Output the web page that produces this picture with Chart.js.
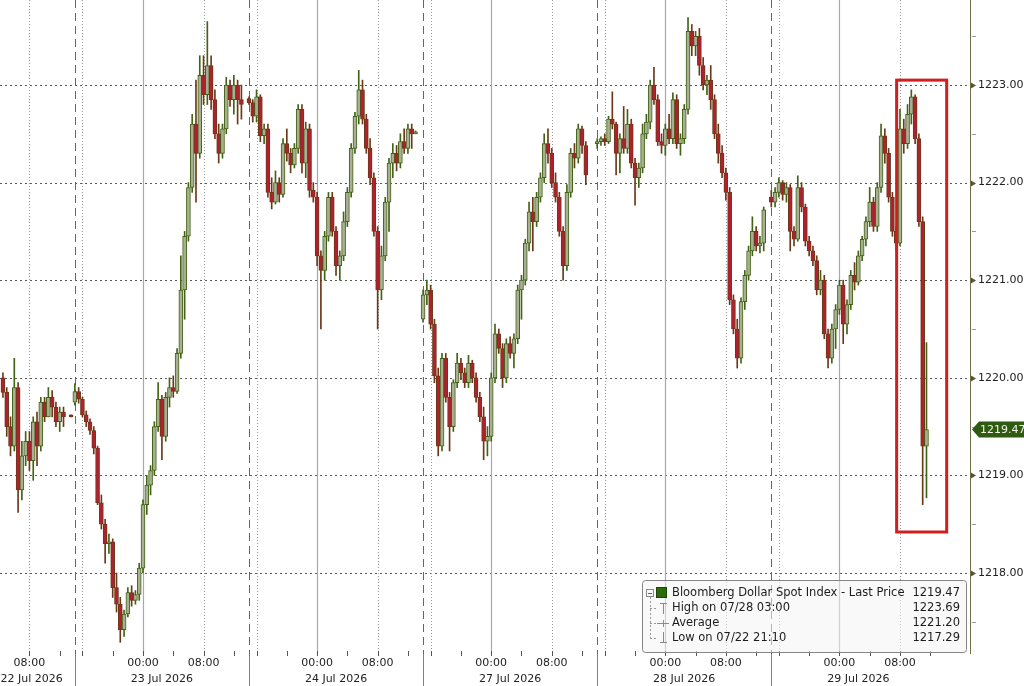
<!DOCTYPE html>
<html><head><meta charset="utf-8">
<script src="https://cdn.jsdelivr.net/npm/chart.js@4.4.1/dist/chart.umd.min.js"></script>
<style>html,body{margin:0;padding:0;background:#fff;}#wrap{width:1024px;height:686px;}</style>
</head><body><div id="wrap"><canvas id="c" width="1024" height="686"></canvas></div>
<script>
// ---- Data: 30-minute candles [open, high, low, close], one array per trading session ----
const jul22 = [
[1220.00,1220.05,1219.80,1219.85],[1219.85,1219.90,1219.40,1219.50],[1219.50,1219.60,1219.20,1219.30],
[1219.30,1220.20,1219.25,1219.90],[1219.90,1219.95,1218.62,1218.85],[1218.85,1219.35,1218.75,1219.20],
[1219.20,1219.45,1219.10,1219.35],[1219.35,1219.45,1219.05,1219.15],[1219.15,1219.60,1218.95,1219.55],
[1219.55,1219.65,1219.10,1219.30],[1219.30,1219.80,1219.25,1219.75],[1219.75,1219.80,1219.55,1219.60],
[1219.60,1219.90,1219.60,1219.80],[1219.80,1219.87,1219.60,1219.70],[1219.70,1219.75,1219.50,1219.55],
[1219.55,1219.70,1219.45,1219.65],[1219.65,1219.70,1219.50,1219.60],null,[1219.62,1219.62,1219.60,1219.60]
];
const jul23 = [
[1219.75,1219.94,1219.72,1219.86],[1219.86,1219.90,1219.74,1219.78],[1219.78,1219.80,1219.60,1219.62],
[1219.62,1219.66,1219.50,1219.55],[1219.55,1219.58,1219.42,1219.46],[1219.46,1219.50,1219.22,1219.28],
[1219.28,1219.30,1218.70,1218.72],[1218.72,1218.80,1218.45,1218.50],[1218.50,1218.55,1218.10,1218.30],
[1218.30,1218.40,1218.20,1218.32],[1218.32,1218.35,1217.75,1217.85],[1217.85,1218.00,1217.60,1217.68],
[1217.68,1217.75,1217.29,1217.42],[1217.42,1217.62,1217.35,1217.58],[1217.58,1217.85,1217.55,1217.80],
[1217.80,1217.87,1217.66,1217.72],[1217.72,1217.82,1217.68,1217.78],[1217.78,1218.10,1217.72,1218.05],
[1218.05,1218.75,1218.00,1218.70],[1218.70,1219.00,1218.60,1218.90],[1218.90,1219.10,1218.80,1219.05],
[1219.05,1219.55,1219.00,1219.50],[1219.50,1219.95,1219.45,1219.78],[1219.78,1219.82,1219.16,1219.40],
[1219.40,1219.85,1219.35,1219.80],[1219.80,1220.00,1219.70,1219.90],[1219.90,1220.02,1219.80,1219.86],
[1219.86,1220.30,1219.84,1220.25],[1220.25,1221.25,1220.20,1220.90],[1220.90,1221.50,1220.60,1221.45],
[1221.45,1222.00,1221.40,1221.95],[1221.95,1222.70,1221.90,1222.60],[1222.60,1223.05,1221.80,1222.30],
[1222.30,1223.30,1222.25,1223.10],[1223.10,1223.30,1222.80,1222.90],[1222.90,1223.65,1222.80,1223.20],
[1223.20,1223.30,1222.75,1222.85],[1222.85,1222.95,1222.45,1222.50],[1222.50,1222.60,1222.20,1222.30],
[1222.30,1222.60,1222.25,1222.55],[1222.55,1223.08,1222.50,1223.00],[1223.00,1223.05,1222.78,1222.85],
[1222.85,1223.10,1222.70,1223.00],[1223.00,1223.05,1222.60,1222.85],[1222.85,1223.00,1222.65,1222.80]
];
const jul24 = [
[1222.86,1222.88,1222.80,1222.82],[1222.82,1222.85,1222.62,1222.68],[1222.68,1222.95,1222.62,1222.88],
[1222.88,1222.90,1222.42,1222.48],[1222.48,1222.60,1222.40,1222.55],[1222.55,1222.60,1221.85,1221.90],
[1221.90,1222.05,1221.73,1221.80],[1221.80,1222.12,1221.78,1222.00],[1222.00,1222.05,1221.80,1221.88],
[1221.88,1222.45,1221.85,1222.40],[1222.40,1222.55,1222.22,1222.30],[1222.30,1222.35,1222.10,1222.18],
[1222.18,1222.40,1222.15,1222.35],[1222.35,1222.80,1222.30,1222.75],[1222.75,1222.80,1222.10,1222.20],
[1222.20,1222.62,1222.05,1222.55],[1222.55,1222.60,1221.85,1221.92],[1221.92,1222.00,1221.80,1221.85],
[1221.85,1221.90,1221.15,1221.25],[1221.25,1221.30,1220.50,1221.10],[1221.10,1221.50,1221.00,1221.45],
[1221.45,1221.90,1221.40,1221.85],[1221.85,1221.90,1221.45,1221.50],[1221.50,1221.55,1221.05,1221.15],
[1221.15,1221.30,1221.00,1221.25],[1221.25,1221.70,1221.20,1221.60],[1221.60,1221.95,1221.55,1221.90],
[1221.90,1222.40,1221.85,1222.35],[1222.35,1222.72,1222.30,1222.68],[1222.68,1223.15,1222.60,1222.95],
[1222.95,1223.05,1222.60,1222.65],[1222.65,1222.70,1222.30,1222.35],[1222.35,1222.45,1221.98,1222.05],
[1222.05,1222.10,1221.45,1221.50],[1221.50,1221.55,1220.50,1220.90],[1220.90,1221.35,1220.80,1221.25],
[1221.25,1221.85,1221.20,1221.80],[1221.80,1222.25,1221.50,1222.20],[1222.20,1222.40,1222.05,1222.30],
[1222.30,1222.38,1222.12,1222.20],[1222.20,1222.50,1222.15,1222.42],[1222.42,1222.55,1222.30,1222.35],
[1222.35,1222.60,1222.30,1222.55],[1222.55,1222.60,1222.35,1222.50],[1222.50,1222.53,1222.50,1222.52]
];
const jul27 = [
[1220.60,1220.90,1220.57,1220.85],[1220.85,1221.00,1220.75,1220.90],[1220.90,1220.95,1220.50,1220.55],
[1220.55,1220.60,1219.95,1220.02],[1220.02,1220.10,1219.20,1219.30],[1219.30,1220.25,1219.25,1220.20],
[1220.20,1220.25,1219.75,1219.80],[1219.80,1219.85,1219.25,1219.50],[1219.50,1219.98,1219.45,1219.95],
[1219.95,1220.25,1219.90,1220.15],[1220.15,1220.20,1219.98,1220.05],[1220.05,1220.10,1219.90,1219.95],
[1219.95,1220.23,1219.90,1220.15],[1220.15,1220.18,1219.95,1220.00],[1220.00,1220.05,1219.75,1219.80],
[1219.80,1219.85,1219.55,1219.60],[1219.60,1219.70,1219.16,1219.35],[1219.35,1219.50,1219.20,1219.40],
[1219.40,1220.05,1219.35,1220.00],[1220.00,1220.55,1219.95,1220.45],[1220.45,1220.50,1220.25,1220.30],
[1220.30,1220.35,1219.90,1220.00],[1220.00,1220.40,1219.95,1220.35],[1220.35,1220.42,1220.20,1220.25],
[1220.25,1220.45,1220.10,1220.40],[1220.40,1220.95,1220.35,1220.90],[1220.90,1221.05,1220.60,1221.00],
[1221.00,1221.42,1220.95,1221.38],[1221.38,1221.80,1221.30,1221.70],[1221.70,1221.85,1221.30,1221.60],
[1221.60,1221.90,1221.55,1221.85],[1221.85,1222.10,1221.80,1222.05],[1222.05,1222.50,1222.00,1222.40],
[1222.40,1222.55,1222.20,1222.30],[1222.30,1222.35,1221.95,1222.00],[1222.00,1222.10,1221.80,1221.85],
[1221.85,1221.90,1221.45,1221.50],[1221.50,1221.55,1221.00,1221.15],[1221.15,1221.98,1221.10,1221.90],
[1221.90,1222.35,1221.85,1222.30],[1222.30,1222.40,1222.15,1222.25],[1222.25,1222.60,1222.20,1222.55],
[1222.55,1222.58,1222.30,1222.38],[1222.38,1222.42,1221.98,1222.08]
];
const jul28 = [
[1222.40,1222.45,1222.35,1222.42],[1222.42,1222.47,1222.38,1222.45],[1222.45,1222.50,1222.38,1222.42],
[1222.42,1222.68,1222.40,1222.65],[1222.65,1222.93,1222.55,1222.60],[1222.60,1222.62,1222.08,1222.30],
[1222.30,1222.50,1222.10,1222.45],[1222.45,1222.78,1222.30,1222.35],[1222.35,1222.75,1222.30,1222.60],
[1222.60,1222.65,1222.15,1222.20],[1222.20,1222.25,1221.77,1222.05],[1222.05,1222.20,1221.95,1222.15],
[1222.15,1222.60,1222.10,1222.50],[1222.50,1222.70,1222.45,1222.62],[1222.62,1223.05,1222.55,1223.00],
[1223.00,1223.18,1222.80,1222.85],[1222.85,1222.90,1222.38,1222.42],[1222.42,1222.50,1222.30,1222.38],
[1222.38,1222.60,1222.28,1222.55],[1222.55,1222.70,1222.40,1222.45],[1222.45,1222.92,1222.40,1222.85],
[1222.85,1222.90,1222.35,1222.40],[1222.40,1222.50,1222.28,1222.45],[1222.45,1222.80,1222.40,1222.75],
[1222.75,1223.69,1222.70,1223.55],[1223.55,1223.62,1223.30,1223.40],[1223.40,1223.55,1223.30,1223.50],
[1223.50,1223.58,1223.10,1223.20],[1223.20,1223.28,1222.95,1223.00],[1223.00,1223.10,1222.90,1223.05],
[1223.05,1223.20,1222.75,1222.85],[1222.85,1222.90,1222.45,1222.50],[1222.50,1222.60,1222.20,1222.30],
[1222.30,1222.38,1222.05,1222.10],[1222.10,1222.15,1221.82,1221.90],[1221.90,1221.95,1220.75,1220.80],
[1220.80,1220.85,1220.45,1220.50],[1220.50,1220.60,1220.10,1220.20],[1220.20,1220.82,1220.15,1220.78],
[1220.78,1221.10,1220.70,1221.05],[1221.05,1221.35,1221.00,1221.30],[1221.30,1221.65,1221.25,1221.50],
[1221.50,1221.55,1221.30,1221.35],[1221.35,1221.45,1221.28,1221.38],[1221.38,1221.75,1221.30,1221.72]
];
const jul29 = [
[1221.85,1221.92,1221.75,1221.80],[1221.80,1221.95,1221.75,1221.90],[1221.90,1222.05,1221.85,1222.00],
[1222.00,1222.02,1221.82,1221.88],[1221.88,1222.00,1221.80,1221.95],[1221.95,1221.98,1221.30,1221.50],
[1221.50,1221.55,1221.35,1221.42],[1221.42,1222.07,1221.40,1221.95],[1221.95,1222.00,1221.70,1221.75],
[1221.75,1221.78,1221.35,1221.40],[1221.40,1221.45,1221.25,1221.30],[1221.30,1221.35,1221.15,1221.20],
[1221.20,1221.25,1220.85,1220.90],[1220.90,1221.10,1220.85,1221.00],[1221.00,1221.05,1220.40,1220.45],
[1220.45,1220.50,1220.10,1220.20],[1220.20,1220.55,1220.15,1220.50],[1220.50,1220.75,1220.30,1220.70],
[1220.70,1221.00,1220.65,1220.95],[1220.95,1221.00,1220.35,1220.55],[1220.55,1220.80,1220.45,1220.75],
[1220.75,1221.10,1220.70,1221.05],[1221.05,1221.18,1220.90,1220.98],[1220.98,1221.30,1220.95,1221.25],
[1221.25,1221.45,1221.20,1221.42],[1221.42,1221.65,1221.35,1221.60],[1221.60,1221.95,1221.55,1221.80],
[1221.80,1221.85,1221.50,1221.55],[1221.55,1222.00,1221.50,1221.95],[1221.95,1222.60,1221.90,1222.48],
[1222.48,1222.55,1222.20,1222.30],[1222.30,1222.35,1221.80,1221.85],[1221.85,1221.90,1221.45,1221.50],
[1221.50,1221.55,1221.30,1221.38],[1221.38,1222.75,1221.35,1222.55],[1222.55,1222.65,1222.30,1222.40],
[1222.40,1222.80,1222.35,1222.70],[1222.70,1222.95,1222.60,1222.88],[1222.88,1222.90,1222.40,1222.45],
[1222.45,1222.50,1221.55,1221.60],[1221.60,1221.65,1218.70,1219.30],[1219.30,1220.36,1218.77,1219.47]
];
const sessionDates = ['22 Jul 2026','23 Jul 2026','24 Jul 2026','27 Jul 2026','28 Jul 2026','29 Jul 2026'];
const sessionBars = [jul22, jul23, jul24, jul27, jul28, jul29];
const sessionFirstSlot = [27, 0, 0, 0, 0, 0];
const timeTickClocks = [0, 8];            // labelled hours
const yTickValues = [1218, 1219, 1220, 1221, 1222, 1223];
const legendLabels = ['Bloomberg Dollar Spot Index - Last Price', 'High on 07/28 03:00', 'Average', 'Low on 07/22 21:10'];
const legendValues = ['1219.47', '1223.69', '1221.20', '1217.29'];
const lastPrice = 1219.47;
// highlighted region (session hours, price)
const highlightT = [131.56, 138.17];
const highlightP = [1218.42, 1223.05];

// ---- time model ----
const SESSION_HOURS = 23, SESSION_OPEN = 15, BAR_HOURS = 0.5;
const T_MIN = 13.11, T_MAX = 141.25, Y_MIN = 1217.170, Y_MAX = 1223.871;
const hOf = c => (c - SESSION_OPEN + 24) % 24;

const candles = [];
sessionBars.forEach((bars, k) => bars.forEach((b, i) => {
  if (!b) return;
  candles.push({t: k * SESSION_HOURS + (sessionFirstSlot[k] + i) * BAR_HOURS, o: b[0], h: b[1], l: b[2], c: b[3]});
}));
const UP_FILL = '#a9af93', UP_EDGE = '#426314', DN_FILL = '#b21f2e', DN_EDGE = '#6a3a18';
const isUp = c => c.c >= c.o;

const tickTimes = [], tickLabels = {};
sessionDates.forEach((d, k) => timeTickClocks.forEach(cl => {
  const t = k * SESSION_HOURS + hOf(cl);
  if (t >= T_MIN && t <= T_MAX) { tickTimes.push(t); tickLabels[t] = String(cl).padStart(2, '0') + ':00'; }
}));

const FONT = '"DejaVu Sans", Verdana, sans-serif';

function line(ctx, x0, y0, x1, y1, color, dash, w) {
  ctx.save(); ctx.strokeStyle = color; ctx.lineWidth = w || 1; ctx.setLineDash(dash || []);
  ctx.beginPath(); ctx.moveTo(x0, y0); ctx.lineTo(x1, y1); ctx.stroke(); ctx.restore();
}
function zeroPad(s) { s.paddingTop = 0; s.paddingBottom = 0; s.paddingLeft = 0; s.paddingRight = 0; }

const gridPlugin = {
  id: 'bbgGrid',
  beforeDatasetsDraw(chart) {
    const {ctx, chartArea: a, scales: {x, y}} = chart;
    ctx.save();
    ctx.beginPath(); ctx.rect(a.left, a.top, a.right - a.left, a.bottom - a.top); ctx.clip();
    yTickValues.forEach(v => {
      const py = Math.round(y.getPixelForValue(v)) + 0.5;
      line(ctx, a.left, py, a.right, py, '#5a5a5a', [2, 3], 1);
    });
    sessionDates.forEach((d, k) => {
      const t0 = k * SESSION_HOURS;
      const xs = Math.round(x.getPixelForValue(t0)) + 0.5;
      if (t0 >= T_MIN) line(ctx, xs, a.top, xs, a.bottom, '#666', [8, 5], 1);
      const xm = Math.round(x.getPixelForValue(t0 + hOf(0))) + 0.5;
      line(ctx, xm, a.top, xm, a.bottom, '#a8a8a8', [], 1.2);
      [8, 16].forEach(cl => {
        const xd = Math.round(x.getPixelForValue(t0 + hOf(cl))) + 0.5;
        line(ctx, xd, a.top, xd, a.bottom, '#9a9a9a', [1, 2], 1);
      });
    });
    ctx.restore();
  },
  afterDraw(chart) {
    const {ctx, chartArea: a, scales: {x, y}} = chart;
    const H = chart.height;
    // y axis line + tick marks
    line(ctx, a.right + 0.5, a.top, a.right + 0.5, a.bottom, '#707048', [], 1);
    for (let v = Math.ceil(Y_MIN * 2) / 2; v <= Y_MAX; v += 0.5) {
      const py = Math.round(y.getPixelForValue(v)) + 0.5;
      if (Number.isInteger(v)) {
        ctx.fillStyle = '#55552a';
        ctx.beginPath(); ctx.moveTo(a.right + 1, py - 3); ctx.lineTo(a.right + 6, py); ctx.lineTo(a.right + 1, py + 3); ctx.closePath(); ctx.fill();
      } else {
        line(ctx, a.right + 2, py, a.right + 6, py, '#9a9a9a', [], 1);
      }
    }
    // x axis small ticks and session separators
    sessionDates.forEach((d, k) => {
      const t0 = k * SESSION_HOURS;
      [0, 4, 8, 12, 16, 20].forEach(cl => {
        const t = t0 + hOf(cl);
        if (t < T_MIN || t > T_MAX) return;
        const px = Math.round(x.getPixelForValue(t)) + 0.5;
        line(ctx, px, a.bottom - 3, px, a.bottom + 2, '#555', [], 1);
      });
      if (t0 >= T_MIN) {
        const xs = Math.round(x.getPixelForValue(t0)) + 0.5;
        line(ctx, xs, a.bottom, xs, H, '#808080', [], 1);
      }
      // date labels
      const s = Math.max(t0, T_MIN), e = Math.min(t0 + SESSION_HOURS, T_MAX);
      ctx.save(); ctx.font = '11px ' + FONT; ctx.fillStyle = '#222'; ctx.textBaseline = 'middle';
      if (t0 < T_MIN) { ctx.textAlign = 'right'; ctx.fillText(d, x.getPixelForValue(e) - 12, a.bottom + 25); }
      else { ctx.textAlign = 'center'; ctx.fillText(d, (x.getPixelForValue(s) + x.getPixelForValue(e)) / 2, a.bottom + 25); }
      ctx.restore();
    });
    // highlight box
    const bx0 = x.getPixelForValue(highlightT[0]), bx1 = x.getPixelForValue(highlightT[1]);
    const by0 = y.getPixelForValue(highlightP[1]), by1 = y.getPixelForValue(highlightP[0]);
    ctx.save(); ctx.strokeStyle = '#d01f1f'; ctx.lineWidth = 3; ctx.strokeRect(bx0, by0, bx1 - bx0, by1 - by0); ctx.restore();
    // last price tag
    const py = y.getPixelForValue(lastPrice);
    ctx.save(); ctx.fillStyle = '#2f5a12';
    ctx.beginPath(); ctx.moveTo(a.right + 2, py); ctx.lineTo(a.right + 9, py - 8); ctx.lineTo(chart.width, py - 8);
    ctx.lineTo(chart.width, py + 8); ctx.lineTo(a.right + 9, py + 8); ctx.closePath(); ctx.fill();
    ctx.font = '11px ' + FONT; ctx.fillStyle = '#f2f2e8'; ctx.textBaseline = 'middle'; ctx.textAlign = 'left';
    ctx.fillText(lastPrice.toFixed(2), a.right + 10, py + 0.5);
    ctx.restore();
    // legend box
    const L = 642, T = 580, R = 966, B = 652;
    ctx.save();
    ctx.fillStyle = 'rgba(244,244,244,0.55)'; ctx.strokeStyle = '#858585'; ctx.lineWidth = 1;
    ctx.beginPath(); ctx.roundRect(L + 0.5, T + 0.5, R - L, B - T, 3); ctx.fill(); ctx.stroke();
    const rows = [593, 608, 623, 638];
    ctx.strokeStyle = '#8a8a8a'; ctx.strokeRect(646.5, 589.5, 7, 7);
    line(ctx, 648, 593.5, 652, 593.5, '#666', [], 1);
    line(ctx, 650.5, 597, 650.5, 638, '#999', [2, 2], 1);
    [608, 623, 638].forEach(r => line(ctx, 650, r + 0.5, 656, r + 0.5, '#999', [2, 2], 1));
    ctx.fillStyle = '#2d6a0c'; ctx.fillRect(656, 587, 11, 11);
    ctx.strokeStyle = '#1d4506'; ctx.strokeRect(656.5, 587.5, 10, 10);
    line(ctx, 663.5, 603, 663.5, 614, '#8a8a8a', [], 1); line(ctx, 660, 603.5, 667, 603.5, '#8a8a8a', [], 1);
    line(ctx, 657, 623.5, 669, 623.5, '#8a8a8a', [], 1); line(ctx, 663.5, 620, 663.5, 627, '#8a8a8a', [], 1);
    line(ctx, 663.5, 632, 663.5, 643, '#8a8a8a', [], 1); line(ctx, 660, 642.5, 667, 642.5, '#8a8a8a', [], 1);
    ctx.font = '11.5px ' + FONT; ctx.fillStyle = '#1c1c1c'; ctx.textBaseline = 'middle';
    legendLabels.forEach((s, i) => { ctx.textAlign = 'left'; ctx.fillText(s, 672, rows[i]); });
    legendValues.forEach((s, i) => { ctx.textAlign = 'right'; ctx.fillText(s, 960, rows[i]); });
    ctx.restore();
  }
};

new Chart(document.getElementById('c'), {
  type: 'bar',
  data: {
    datasets: [
      {
        label: 'wick', order: 2, grouped: false, barThickness: 1, borderWidth: 0,
        data: candles.map(c => ({x: c.t, y: [c.l, c.h]})),
        backgroundColor: candles.map(c => isUp(c) ? UP_EDGE : DN_EDGE)
      },
      {
        label: 'body', order: 1, grouped: false, barThickness: 4, borderWidth: 1, borderSkipped: false, minBarLength: 1,
        data: candles.map(c => ({x: c.t, y: [c.o, c.c]})),
        backgroundColor: candles.map(c => isUp(c) ? UP_FILL : DN_FILL),
        borderColor: candles.map(c => isUp(c) ? UP_EDGE : DN_EDGE)
      }
    ]
  },
  options: {
    responsive: false, animation: false, events: [],
    layout: {padding: 0},
    plugins: {legend: {display: false}, tooltip: {enabled: false}, title: {display: false}},
    scales: {
      x: {
        type: 'linear', min: T_MIN, max: T_MAX, bounds: 'data', position: 'bottom', offset: false,
        grid: {display: false, drawTicks: false}, border: {display: false},
        afterBuildTicks: s => { s.ticks = tickTimes.map(v => ({value: v})); },
        afterFit: s => { s.height = 32; zeroPad(s); },
        ticks: {autoSkip: false, maxRotation: 0, padding: 3, color: '#222', font: {family: FONT, size: 11},
          callback: v => tickLabels[v] || ''}
      },
      y: {
        type: 'linear', position: 'right', min: Y_MIN, max: Y_MAX, bounds: 'data',
        grid: {display: false, drawTicks: false}, border: {display: false},
        afterBuildTicks: s => { s.ticks = yTickValues.map(v => ({value: v})); },
        afterFit: s => { s.width = 54; zeroPad(s); },
        ticks: {padding: 8, color: '#222', font: {family: FONT, size: 11}, callback: v => Number(v).toFixed(2)}
      }
    }
  },
  plugins: [gridPlugin]
});
</script>
</body></html>
